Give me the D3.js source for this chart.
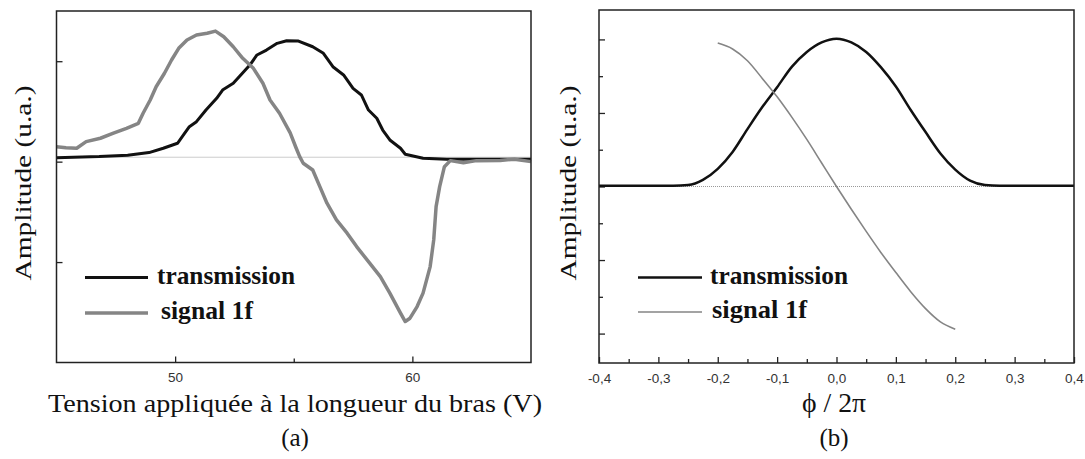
<!DOCTYPE html>
<html><head><meta charset="utf-8">
<script src="https://cdn.jsdelivr.net/npm/d3@7"></script>
<style>body{margin:0;background:#fff}svg{display:block}</style>
</head><body>
<svg id="c" width="1085" height="459"></svg>
<script>
// ---------- data (panel a) ----------
const transAx = [45.0,46.8,48.0,48.9,49.5,50.1,50.3,50.6,50.9,51.3,51.75,52.0,52.45,52.7,53.15,53.45,53.85,54.3,54.7,55.2,55.8,56.25,56.65,57.1,57.5,57.85,58.15,58.5,58.75,59.05,59.5,59.7,60.45,61.45,65.0];
const transAy = [0.04,0.05,0.064,0.09,0.133,0.183,0.249,0.348,0.398,0.514,0.631,0.713,0.78,0.846,0.962,1.062,1.111,1.178,1.204,1.201,1.144,1.079,0.945,0.863,0.73,0.664,0.514,0.432,0.315,0.216,0.133,0.074,0.034,0.024,0.024];
const sigAx = [45.0,45.4,45.85,46.25,46.85,47.4,47.95,48.45,48.65,48.95,49.2,49.55,49.85,50.15,50.5,50.9,51.35,51.7,52.05,52.45,52.85,53.3,53.7,54.0,54.4,54.85,55.1,55.25,55.4,55.8,56.1,56.4,56.8,57.25,57.65,58.2,58.65,59.05,59.5,59.7,59.9,60.2,60.45,60.75,60.9,61.0,61.15,61.35,61.6,62.15,62.7,63.7,64.3,65.0];
const sigAy = [0.149,0.139,0.133,0.199,0.233,0.283,0.332,0.382,0.482,0.614,0.746,0.88,1.012,1.128,1.211,1.261,1.278,1.3,1.244,1.144,1.029,0.929,0.78,0.614,0.482,0.286,0.136,0.05,-0.016,-0.083,-0.249,-0.414,-0.58,-0.712,-0.846,-1.011,-1.144,-1.309,-1.508,-1.592,-1.559,-1.443,-1.309,-1.045,-0.779,-0.448,-0.249,-0.05,0.01,-0.01,0.01,0.012,0.024,0.0];
const refA = 0.044;
const xTicksA = [50, 60];
const xMinorA = [55];
const yTicksA = [-1, 0, 1];

// ---------- data (panel b) ----------
const phiT = [-0.4,-0.375,-0.35,-0.325,-0.3,-0.275,-0.25,-0.225,-0.2,-0.175,-0.15,-0.125,-0.1,-0.075,-0.05,-0.025,0,0.025,0.05,0.075,0.1,0.125,0.15,0.175,0.2,0.225,0.25,0.275,0.3,0.325,0.35,0.375,0.4];
const transB = [0.01,0.01,0.01,0.01,0.01,0.01,0.02,0.09,0.24,0.47,0.78,1.08,1.35,1.63,1.83,1.96,2.01,1.96,1.83,1.62,1.36,1.04,0.74,0.45,0.23,0.08,0.02,0.01,0.01,0.01,0.01,0.01,0.01];
const phiS = [-0.2,-0.175,-0.15,-0.125,-0.1,-0.075,-0.05,-0.025,0,0.025,0.05,0.075,0.1,0.125,0.15,0.175,0.2];
const sigB = [1.95,1.87,1.71,1.47,1.22,0.94,0.64,0.32,0,-0.31,-0.61,-0.9,-1.17,-1.43,-1.66,-1.84,-1.94];
const refB = 0;
const xTicksB = [-0.4,-0.3,-0.2,-0.1,0,0.1,0.2,0.3,0.4];
const xMinorB = [-0.35,-0.25,-0.15,-0.05,0.05,0.15,0.25,0.35];
const yTicksB = [-2,-1,0,1,2];
const yMinorB = [-1.5,-0.5,0.5,1.5];

const legendLabels = ["transmission", "signal 1f"];
const BLACK = "#111", GRAY = "#858585";

const svg = d3.select("#c");
const serif = "Liberation Serif";
const sans = "Liberation Sans";

function panel(cfg){
  const g = svg.append("g");
  const {x, y} = cfg;
  const [x0, x1] = x.range(), [y1, y0] = y.range();
  g.append("line").attr("x1", x0).attr("x2", x1).attr("y1", y(cfg.ref)).attr("y2", y(cfg.ref))
    .attr("stroke", "#999").attr("stroke-width", 1).attr("stroke-dasharray", "1,1");
  const ax = g.append("g").attr("transform", `translate(0,${y1})`)
    .call(d3.axisBottom(x).tickValues(cfg.xTicks).tickSizeInner(-6).tickSizeOuter(0).tickPadding(10).tickFormat(cfg.fmt));
  ax.select(".domain").remove();
  ax.selectAll("line").attr("stroke", "#222").attr("stroke-width", 1.3);
  ax.selectAll("text").style("font-family", sans).style("font-size", "13.5px").attr("fill", "#333");
  const axm = g.append("g").attr("transform", `translate(0,${y1})`)
    .call(d3.axisBottom(x).tickValues(cfg.xMinor).tickSizeInner(-4).tickSizeOuter(0).tickFormat(""));
  axm.select(".domain").remove();
  axm.selectAll("line").attr("stroke", "#222").attr("stroke-width", 1.3);
  const ay = g.append("g").attr("transform", `translate(${x0},0)`)
    .call(d3.axisLeft(y).tickValues(cfg.yTicks).tickSizeInner(-6).tickSizeOuter(0).tickFormat(""));
  ay.select(".domain").remove();
  ay.selectAll("line").attr("stroke", "#222").attr("stroke-width", 1.3);
  if (cfg.yMinor){
    const aym = g.append("g").attr("transform", `translate(${x0},0)`)
      .call(d3.axisLeft(y).tickValues(cfg.yMinor).tickSizeInner(-4).tickSizeOuter(0).tickFormat(""));
    aym.select(".domain").remove();
    aym.selectAll("line").attr("stroke", "#222").attr("stroke-width", 1.3);
  }
  const line = d3.line().x(d => x(d[0])).y(d => y(d[1])).curve(cfg.curve);
  g.append("path").datum(cfg.trans).attr("d", line).attr("fill", "none")
    .attr("stroke", BLACK).attr("stroke-width", cfg.tw).attr("stroke-linejoin", "round");
  g.append("path").datum(cfg.sig).attr("d", line).attr("fill", "none")
    .attr("stroke", GRAY).attr("stroke-width", cfg.sw).attr("stroke-linejoin", "round");
  g.append("rect").attr("x", x0).attr("y", y0).attr("width", x1 - x0).attr("height", y1 - y0)
    .attr("fill", "none").attr("stroke", "#222").attr("stroke-width", 1.5);
  const L = cfg.legend;
  [[BLACK, cfg.tw, L.y1], [GRAY, cfg.sw, L.y2]].forEach(([c, w, yy], i) => {
    g.append("line").attr("x1", L.lx0).attr("x2", L.lx1).attr("y1", yy).attr("y2", yy)
      .attr("stroke", c).attr("stroke-width", w);
    g.append("text").attr("x", L.tx[i]).attr("y", yy + 6).text(legendLabels[i])
      .style("font-family", serif).style("font-weight", "bold").style("font-size", "25px")
      .attr("textLength", L.tl[i]).attr("lengthAdjust", "spacingAndGlyphs").attr("fill", "#111");
  });
  g.append("text").attr("transform", `translate(${cfg.ytx},183) rotate(-90)`)
    .attr("text-anchor", "middle").attr("dominant-baseline", "central")
    .style("font-family", serif).style("font-size", "24px").attr("fill", "#111")
    .attr("textLength", 195).attr("lengthAdjust", "spacingAndGlyphs")
    .text("Amplitude (u.a.)");
  const xt = g.append("text").attr("x", cfg.xtx).attr("y", 412).attr("text-anchor", "middle")
    .style("font-family", serif).style("font-size", cfg.xfs).attr("fill", "#111").text(cfg.xtitle);
  if (cfg.xtl) xt.attr("textLength", cfg.xtl).attr("lengthAdjust", "spacingAndGlyphs");
  g.append("text").attr("x", cfg.xtx).attr("y", 446).attr("text-anchor", "middle")
    .style("font-family", serif).style("font-size", "25px").attr("fill", "#111").text(cfg.plabel);
}

panel({
  x: d3.scaleLinear().domain([45, 65]).range([56.5, 531]),
  y: d3.scaleLinear().domain([-2, 1.5]).range([362.5, 11]),
  ref: refA, xTicks: xTicksA, xMinor: xMinorA, yTicks: yTicksA,
  fmt: d => String(d),
  curve: d3.curveLinear,
  trans: transAx.map((v, i) => [v, transAy[i]]),
  sig: sigAx.map((v, i) => [v, sigAy[i]]),
  tw: 3, sw: 3.5,
  legend: {lx0: 85, lx1: 148, y1: 277.5, y2: 313, tx: [157, 161], tl: [138, 92]},
  ytx: 23, xtx: 295, xtitle: "Tension appliquée à la longueur du bras (V)", xtl: 494, xfs: "26px", plabel: "(a)"
});

panel({
  x: d3.scaleLinear().domain([-0.4, 0.4]).range([599, 1074]),
  y: d3.scaleLinear().domain([-2.4, 2.4]).range([363, 10]),
  ref: refB, xTicks: xTicksB, xMinor: xMinorB, yTicks: yTicksB, yMinor: yMinorB,
  fmt: d => d3.format(".1f")(d).replace("\u2212", "-").replace(".", ","),
  curve: d3.curveMonotoneX,
  trans: phiT.map((v, i) => [v, transB[i]]),
  sig: phiS.map((v, i) => [v, sigB[i]]),
  tw: 2.5, sw: 1.6,
  legend: {lx0: 638, lx1: 702, y1: 277.5, y2: 312, tx: [710, 712], tl: [138, 95]},
  ytx: 568, xtx: 834, xtitle: "\u03D5 / 2\u03C0", xtl: 64, xfs: "27px", plabel: "(b)"
});
</script>
</body></html>
